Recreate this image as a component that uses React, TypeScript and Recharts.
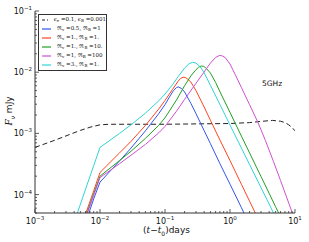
import React from 'react';
import { LineChart, Line, XAxis, YAxis, Legend } from 'recharts';

// 5 GHz light curves, time since t0 in days, flux in mJy
const tDash = [0.001, 0.002, 0.003, 0.005, 0.007, 0.01, 0.014, 0.1, 1, 2, 3, 4.5, 6, 7, 8, 9, 10];
const fDash = [5.9e-4, 7.7e-4, 9.1e-4, 1.12e-3, 1.26e-3, 1.38e-3, 1.41e-3, 1.41e-3, 1.45e-3, 1.5e-3, 1.57e-3, 1.63e-3, 1.58e-3, 1.5e-3, 1.38e-3, 1.25e-3, 1.1e-3];

const tBlue = [0.004, 0.006, 0.008, 0.01, 0.02, 0.03, 0.05, 0.08, 0.1, 0.12, 0.135, 0.15, 0.16, 0.18, 0.2, 0.25, 0.3, 0.4, 0.5, 0.7, 1, 1.5, 2];
const fBlue = [1e-5, 3.5e-5, 8.5e-5, 1.6e-4, 3.55e-4, 5.75e-4, 1.1e-3, 2.1e-3, 2.95e-3, 4.1e-3, 5e-3, 5.6e-3, 5.75e-3, 5.4e-3, 4.75e-3, 3.1e-3, 2.1e-3, 1.11e-3, 6.8e-4, 3.2e-4, 1.48e-4, 6.1e-5, 3.2e-5];

const tRed = [0.004, 0.006, 0.008, 0.01, 0.02, 0.03, 0.05, 0.08, 0.1, 0.13, 0.16, 0.175, 0.19, 0.205, 0.22, 0.25, 0.3, 0.4, 0.5, 0.7, 1, 1.5, 2, 3];
const fRed = [1.4e-5, 4.8e-5, 1.15e-4, 2.3e-4, 4.8e-4, 7.4e-4, 1.35e-3, 2.5e-3, 3.45e-3, 5.2e-3, 7.2e-3, 7.95e-3, 8.25e-3, 8.2e-3, 7.8e-3, 6.9e-3, 5e-3, 2.7e-3, 1.64e-3, 7.8e-4, 3.6e-4, 1.47e-4, 7.8e-5, 3.2e-5];

const tGreen = [0.004, 0.006, 0.008, 0.01, 0.02, 0.03, 0.05, 0.08, 0.1, 0.15, 0.2, 0.25, 0.3, 0.33, 0.36, 0.39, 0.42, 0.5, 0.6, 0.7, 1, 1.5, 2, 3, 4, 5, 6];
const fGreen = [1.25e-5, 4.3e-5, 1.03e-4, 2e-4, 3.6e-4, 5.1e-4, 8.3e-4, 1.35e-3, 1.8e-3, 3.5e-3, 6e-3, 8.7e-3, 0.011, 0.0121, 0.0126, 0.0125, 0.0119, 9.7e-3, 6.8e-3, 4.8e-3, 2.2e-3, 9e-4, 4.8e-4, 1.97e-4, 1.05e-4, 6.4e-5, 4.3e-5];

const tMagenta = [0.004, 0.006, 0.008, 0.01, 0.02, 0.03, 0.05, 0.08, 0.1, 0.15, 0.2, 0.3, 0.4, 0.5, 0.6, 0.68, 0.75, 0.85, 1, 1.2, 1.5, 2, 2.7, 3.5, 4.65, 6, 8, 10];
const fMagenta = [1.2e-5, 4.1e-5, 9.7e-5, 1.9e-4, 3.2e-4, 4.4e-4, 6.6e-4, 1.02e-3, 1.3e-3, 2.3e-3, 3.6e-3, 6.6e-3, 0.0101, 0.0141, 0.0174, 0.0187, 0.0186, 0.0172, 0.0136, 9.2e-3, 5.6e-3, 2.95e-3, 1.5e-3, 7.7e-4, 3.5e-4, 1.69e-4, 7.3e-5, 3.8e-5];

const tCyan = [0.004, 0.006, 0.008, 0.01, 0.02, 0.03, 0.05, 0.08, 0.1, 0.13, 0.16, 0.2, 0.235, 0.265, 0.3, 0.35, 0.4, 0.5, 0.7, 1, 1.5, 2, 3, 4, 5];
const fCyan = [3.5e-5, 1.23e-4, 2.97e-4, 5.9e-4, 1e-3, 1.38e-3, 2.14e-3, 3.4e-3, 4.4e-3, 6.2e-3, 8.5e-3, 0.0117, 0.0138, 0.0145, 0.0141, 0.0122, 9.8e-3, 6.1e-3, 2.96e-3, 1.37e-3, 5.75e-4, 3.1e-4, 1.3e-4, 7e-5, 4.3e-5];

const xDecades = [-3, -2, -1, 0];
const yDecades = [-5, -4, -3, -2];
const mantissas = [1, 2, 3, 4, 5, 6, 7, 8, 9];

const X_DOMAIN: [number, number] = [1e-3, 10];
const Y_DOMAIN: [number, number] = [5e-5, 0.1];

const xTicks = [...xDecades.flatMap(d => mantissas.map(m => Number((m * 10 ** d).toPrecision(6)))), 10];
const yTicks = [...yDecades.flatMap(d => mantissas.map(m => Number((m * 10 ** d).toPrecision(6)))), 0.1].filter(
  v => v >= Y_DOMAIN[0] && v <= Y_DOMAIN[1]
);

const toRows = (t: number[], f: number[]) => t.map((x, i) => ({ t: x, f: f[i] }));

const series = [
  { name: 'eps', data: toRows(tDash, fDash), color: '#222222', dash: '5 3', label: ['ϵ', 'e', '0.1', 'ϵ', 'B', '0.001'] },
  { name: 'blue', data: toRows(tBlue, fBlue), color: '#3355ee', label: ['ℜ', 'v', '0.5', 'ℜ', 'B', '1'] },
  { name: 'red', data: toRows(tRed, fRed), color: '#ff4422', label: ['ℜ', 'v', '1.', 'ℜ', 'B', '1.'] },
  { name: 'green', data: toRows(tGreen, fGreen), color: '#22a022', label: ['ℜ', 'v', '1.', 'ℜ', 'B', '10.'] },
  { name: 'magenta', data: toRows(tMagenta, fMagenta), color: '#d050d0', label: ['ℜ', 'v', '1', 'ℜ', 'B', '100'] },
  { name: 'cyan', data: toRows(tCyan, fCyan), color: '#30d4d4', label: ['ℜ', 'v', '3.', 'ℜ', 'B', '1.'] },
];

const AXIS = '#333';
const isMajor = (v: number) => Math.abs(Math.log10(v) - Math.round(Math.log10(v))) < 1e-6;
const expText = (v: number) => {
  const e = Math.round(Math.log10(v));
  return e < 0 ? `\u2212${-e}` : `${e}`;
};

const PowerLabel = ({ x, y, v, anchor }: any) => (
  <text x={x} y={y} textAnchor={anchor} fontSize={8} fill="#111" fontFamily="DejaVu Sans">
    10
    <tspan dy={-4} fontSize={5.5}>
      {expText(v)}
    </tspan>
  </text>
);

// ticks point into the plot, like matplotlib's classic style
const tickFor = (side: 'bottom' | 'top' | 'left' | 'right') => (p: any) => {
  const v = p.payload.value;
  const major = isMajor(v);
  const len = major ? 4 : 2;
  const { x, y } = p;
  let x2 = x;
  let y2 = y;
  if (side === 'bottom') y2 = y - len;
  if (side === 'top') y2 = y + len;
  if (side === 'left') x2 = x + len;
  if (side === 'right') x2 = x - len;
  return (
    <g>
      <line x1={x} y1={y} x2={x2} y2={y2} stroke={AXIS} strokeWidth={0.8} />
      {major && side === 'bottom' && <PowerLabel x={x} y={y + 11} v={v} anchor="middle" />}
      {major && side === 'left' && <PowerLabel x={x - 3} y={y + 3} v={v} anchor="end" />}
    </g>
  );
};

// legend keeps the series order of the figure, colours come from the payload
const renderLegend = (props: any) => {
  const payload: any[] = props.payload || [];
  return (
    <div
      style={{
        border: '1.3px solid #333',
        background: '#fff',
        width: 69,
        height: 57,
        boxSizing: 'border-box',
        paddingLeft: 3,
      }}
    >
      {series.map(s => {
        const entry = payload.find(e => e.value === s.name);
        const color = entry ? entry.color : s.color;
        const [a, b, c, d, f, g] = s.label;
        return (
          <div key={s.name} style={{ display: 'flex', alignItems: 'center', height: 9 }}>
            <svg width={9} height={4}>
              <line x1={0} y1={2} x2={9} y2={2} stroke={color} strokeWidth={1.2} strokeDasharray={s.dash ? '3 2' : undefined} />
            </svg>
            <span style={{ marginLeft: 6, fontSize: 5.5, fontFamily: 'DejaVu Serif', whiteSpace: 'nowrap', color: '#111', lineHeight: '9px' }}>
              {a}
              <sub style={{ fontSize: 4, verticalAlign: '-1px' }}>{b}</sub> ={c}, {d}
              <sub style={{ fontSize: 4, verticalAlign: '-1px' }}>{f}</sub> ={g}
            </span>
          </div>
        );
      })}
    </div>
  );
};

export default function App() {
  return (
    <div style={{ position: 'absolute', left: 0, top: 0, width: 309, height: 242, background: '#fff' }}>
      <LineChart width={309} height={242} margin={{ top: 11, right: 14, left: 0, bottom: 0 }}>
        <XAxis
          dataKey="t"
          type="number"
          scale="log"
          domain={X_DOMAIN}
          allowDataOverflow
          ticks={xTicks}
          interval={0}
          height={29}
          tickSize={0}
          tickMargin={0}
          tick={tickFor('bottom')}
          axisLine={{ stroke: AXIS, strokeWidth: 1 }}
        />
        <XAxis
          xAxisId="top"
          orientation="top"
          type="number"
          scale="log"
          domain={X_DOMAIN}
          allowDataOverflow
          ticks={xTicks}
          interval={0}
          height={0}
          tickSize={0}
          tickMargin={0}
          tick={tickFor('top')}
          axisLine={{ stroke: AXIS, strokeWidth: 1 }}
        />
        <YAxis
          type="number"
          scale="log"
          domain={Y_DOMAIN}
          allowDataOverflow
          ticks={yTicks}
          interval={0}
          width={35}
          tickSize={0}
          tickMargin={0}
          tick={tickFor('left')}
          axisLine={{ stroke: AXIS, strokeWidth: 1 }}
        />
        <YAxis
          yAxisId="right"
          orientation="right"
          type="number"
          scale="log"
          domain={Y_DOMAIN}
          allowDataOverflow
          ticks={yTicks}
          interval={0}
          width={0}
          tickSize={0}
          tickMargin={0}
          tick={tickFor('right')}
          axisLine={{ stroke: AXIS, strokeWidth: 1 }}
        />
        <Legend
          layout="horizontal"
          verticalAlign="middle"
          align="center"
          content={renderLegend}
          wrapperStyle={{ left: 38, top: 14, width: 69, height: 57 }}
        />
        {series.map(s => (
          <Line
            key={s.name}
            name={s.name}
            data={s.data}
            dataKey="f"
            type="linear"
            stroke={s.color}
            strokeWidth={1}
            strokeDasharray={s.dash}
            dot={false}
            isAnimationActive={false}
          />
        ))}
      </LineChart>
      <div style={{ position: 'absolute', left: 262, top: 79, fontSize: 7.5, fontFamily: 'DejaVu Sans', color: '#111' }}>5GHz</div>
      <div
        style={{
          position: 'absolute',
          left: 143,
          top: 225,
          width: 46,
          textAlign: 'center',
          fontSize: 9,
          fontFamily: 'DejaVu Sans',
          color: '#111',
          whiteSpace: 'nowrap',
        }}
      >
        (<i style={{ fontFamily: 'DejaVu Serif' }}>t</i>−<i style={{ fontFamily: 'DejaVu Serif' }}>t</i>
        <sub style={{ fontSize: 6 }}>0</sub>)days
      </div>
      <div
        style={{
          position: 'absolute',
          left: 10,
          top: 111,
          transform: 'translate(-50%, -50%) rotate(-90deg)',
          fontSize: 9,
          fontFamily: 'DejaVu Sans',
          color: '#111',
          whiteSpace: 'nowrap',
        }}
      >
        <i style={{ fontFamily: 'DejaVu Serif' }}>F</i>
        <sub style={{ fontSize: 6, fontStyle: 'italic' }}>ν</sub> mJy
      </div>
    </div>
  );
}
